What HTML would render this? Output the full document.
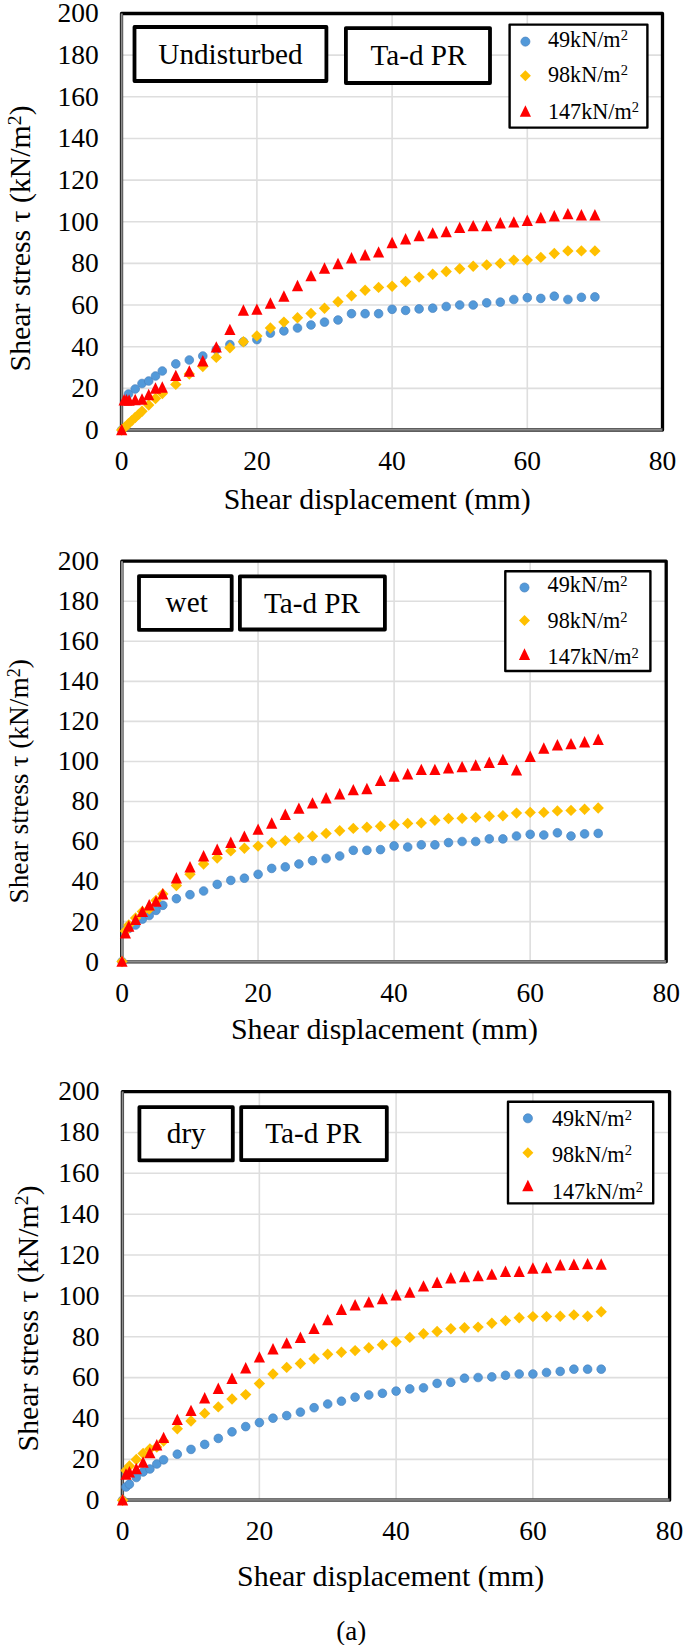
<!DOCTYPE html>
<html><head><meta charset="utf-8"><style>
html,body{margin:0;padding:0;background:#fff;}
svg{display:block;}
.t{font-family:"Liberation Serif", serif;fill:#000;}
</style></head><body>
<svg width="685" height="1645" viewBox="0 0 685 1645">
<rect width="685" height="1645" fill="#fff"/>
<line x1="121.7" y1="388.35" x2="662.5" y2="388.35" stroke="#DEDEDE" stroke-width="1.6"/>
<line x1="121.7" y1="346.70" x2="662.5" y2="346.70" stroke="#DEDEDE" stroke-width="1.6"/>
<line x1="121.7" y1="305.05" x2="662.5" y2="305.05" stroke="#DEDEDE" stroke-width="1.6"/>
<line x1="121.7" y1="263.40" x2="662.5" y2="263.40" stroke="#DEDEDE" stroke-width="1.6"/>
<line x1="121.7" y1="221.75" x2="662.5" y2="221.75" stroke="#DEDEDE" stroke-width="1.6"/>
<line x1="121.7" y1="180.10" x2="662.5" y2="180.10" stroke="#DEDEDE" stroke-width="1.6"/>
<line x1="121.7" y1="138.45" x2="662.5" y2="138.45" stroke="#DEDEDE" stroke-width="1.6"/>
<line x1="121.7" y1="96.80" x2="662.5" y2="96.80" stroke="#DEDEDE" stroke-width="1.6"/>
<line x1="121.7" y1="55.15" x2="662.5" y2="55.15" stroke="#DEDEDE" stroke-width="1.6"/>
<line x1="256.90" y1="13.5" x2="256.90" y2="430.0" stroke="#DEDEDE" stroke-width="1.6"/>
<line x1="392.10" y1="13.5" x2="392.10" y2="430.0" stroke="#DEDEDE" stroke-width="1.6"/>
<line x1="527.30" y1="13.5" x2="527.30" y2="430.0" stroke="#DEDEDE" stroke-width="1.6"/>
<rect x="121.5" y="13.50" width="541.0" height="416.50" fill="none" stroke="#000" stroke-width="3.3" stroke-linejoin="round"/>
<line x1="121.7" y1="13.5" x2="121.7" y2="431.5" stroke="#8e8e8e" stroke-width="2.0"/>
<line x1="120.2" y1="430.0" x2="662.5" y2="430.0" stroke="#6a6a6a" stroke-width="3.6"/>
<line x1="120.2" y1="429.7" x2="661.5" y2="429.7" stroke="#909090" stroke-width="1.0"/>
<rect x="134.5" y="27.0" width="191.9" height="54.0" fill="#fff" stroke="#000" stroke-width="3.8" stroke-linejoin="round"/>
<text x="158.3" y="63.5" font-size="29.2" class="t">Undisturbed</text>
<rect x="345.9" y="28.1" width="144.1" height="54.9" fill="#fff" stroke="#000" stroke-width="3.8" stroke-linejoin="round"/>
<text x="370.5" y="64.7" font-size="29.2" class="t">Ta-d PR</text>
<rect x="509.6" y="24.6" width="137.8" height="103.0" fill="#fff" stroke="#000" stroke-width="2.4" stroke-linejoin="round"/>
<circle cx="525.4" cy="41.6" r="4.55" fill="#5299D9" stroke="#4A82BF" stroke-width="0.7"/>
<path d="M525.4 70.3L530.9 75.8L525.4 81.3L519.9 75.8Z" fill="#FFC000"/>
<path d="M525.4 105.2L531.0 116.8L519.8 116.8Z" fill="#FF0000"/>
<text x="547.9" y="46.8" font-size="22.2" class="t">49kN/m<tspan font-size="14.5" dy="-6.4">2</tspan></text>
<text x="547.9" y="81.8" font-size="22.2" class="t">98kN/m<tspan font-size="14.5" dy="-6.4">2</tspan></text>
<text x="547.9" y="118.8" font-size="22.2" class="t">147kN/m<tspan font-size="14.5" dy="-6.4">2</tspan></text>
<circle cx="121.7" cy="430.0" r="4.35" fill="#5299D9" stroke="#4A82BF" stroke-width="0.7"/>
<circle cx="128.5" cy="394.0" r="4.35" fill="#5299D9" stroke="#4A82BF" stroke-width="0.7"/>
<circle cx="135.2" cy="389.0" r="4.35" fill="#5299D9" stroke="#4A82BF" stroke-width="0.7"/>
<circle cx="142.0" cy="383.5" r="4.35" fill="#5299D9" stroke="#4A82BF" stroke-width="0.7"/>
<circle cx="148.7" cy="381.0" r="4.35" fill="#5299D9" stroke="#4A82BF" stroke-width="0.7"/>
<circle cx="155.5" cy="376.0" r="4.35" fill="#5299D9" stroke="#4A82BF" stroke-width="0.7"/>
<circle cx="162.3" cy="371.0" r="4.35" fill="#5299D9" stroke="#4A82BF" stroke-width="0.7"/>
<circle cx="175.8" cy="363.9" r="4.35" fill="#5299D9" stroke="#4A82BF" stroke-width="0.7"/>
<circle cx="189.3" cy="360.0" r="4.35" fill="#5299D9" stroke="#4A82BF" stroke-width="0.7"/>
<circle cx="202.8" cy="356.0" r="4.35" fill="#5299D9" stroke="#4A82BF" stroke-width="0.7"/>
<circle cx="216.3" cy="349.5" r="4.35" fill="#5299D9" stroke="#4A82BF" stroke-width="0.7"/>
<circle cx="229.9" cy="344.6" r="4.35" fill="#5299D9" stroke="#4A82BF" stroke-width="0.7"/>
<circle cx="243.4" cy="341.8" r="4.35" fill="#5299D9" stroke="#4A82BF" stroke-width="0.7"/>
<circle cx="256.9" cy="339.6" r="4.35" fill="#5299D9" stroke="#4A82BF" stroke-width="0.7"/>
<circle cx="270.4" cy="333.1" r="4.35" fill="#5299D9" stroke="#4A82BF" stroke-width="0.7"/>
<circle cx="283.9" cy="330.9" r="4.35" fill="#5299D9" stroke="#4A82BF" stroke-width="0.7"/>
<circle cx="297.5" cy="328.0" r="4.35" fill="#5299D9" stroke="#4A82BF" stroke-width="0.7"/>
<circle cx="311.0" cy="325.0" r="4.35" fill="#5299D9" stroke="#4A82BF" stroke-width="0.7"/>
<circle cx="324.5" cy="322.1" r="4.35" fill="#5299D9" stroke="#4A82BF" stroke-width="0.7"/>
<circle cx="338.0" cy="320.0" r="4.35" fill="#5299D9" stroke="#4A82BF" stroke-width="0.7"/>
<circle cx="351.5" cy="313.7" r="4.35" fill="#5299D9" stroke="#4A82BF" stroke-width="0.7"/>
<circle cx="365.1" cy="313.7" r="4.35" fill="#5299D9" stroke="#4A82BF" stroke-width="0.7"/>
<circle cx="378.6" cy="313.7" r="4.35" fill="#5299D9" stroke="#4A82BF" stroke-width="0.7"/>
<circle cx="392.1" cy="309.3" r="4.35" fill="#5299D9" stroke="#4A82BF" stroke-width="0.7"/>
<circle cx="405.6" cy="310.4" r="4.35" fill="#5299D9" stroke="#4A82BF" stroke-width="0.7"/>
<circle cx="419.1" cy="308.9" r="4.35" fill="#5299D9" stroke="#4A82BF" stroke-width="0.7"/>
<circle cx="432.7" cy="308.2" r="4.35" fill="#5299D9" stroke="#4A82BF" stroke-width="0.7"/>
<circle cx="446.2" cy="306.5" r="4.35" fill="#5299D9" stroke="#4A82BF" stroke-width="0.7"/>
<circle cx="459.7" cy="305.0" r="4.35" fill="#5299D9" stroke="#4A82BF" stroke-width="0.7"/>
<circle cx="473.2" cy="305.0" r="4.35" fill="#5299D9" stroke="#4A82BF" stroke-width="0.7"/>
<circle cx="486.7" cy="302.8" r="4.35" fill="#5299D9" stroke="#4A82BF" stroke-width="0.7"/>
<circle cx="500.3" cy="302.1" r="4.35" fill="#5299D9" stroke="#4A82BF" stroke-width="0.7"/>
<circle cx="513.8" cy="299.5" r="4.35" fill="#5299D9" stroke="#4A82BF" stroke-width="0.7"/>
<circle cx="527.3" cy="297.7" r="4.35" fill="#5299D9" stroke="#4A82BF" stroke-width="0.7"/>
<circle cx="540.8" cy="298.4" r="4.35" fill="#5299D9" stroke="#4A82BF" stroke-width="0.7"/>
<circle cx="554.3" cy="296.2" r="4.35" fill="#5299D9" stroke="#4A82BF" stroke-width="0.7"/>
<circle cx="567.9" cy="299.5" r="4.35" fill="#5299D9" stroke="#4A82BF" stroke-width="0.7"/>
<circle cx="581.4" cy="297.3" r="4.35" fill="#5299D9" stroke="#4A82BF" stroke-width="0.7"/>
<circle cx="594.9" cy="296.9" r="4.35" fill="#5299D9" stroke="#4A82BF" stroke-width="0.7"/>
<path d="M121.7 424.3L127.4 430.0L121.7 435.7L116.0 430.0Z" fill="#FFC000"/>
<path d="M125.1 421.3L130.8 427.0L125.1 432.7L119.4 427.0Z" fill="#FFC000"/>
<path d="M128.5 418.1L134.2 423.8L128.5 429.5L122.8 423.8Z" fill="#FFC000"/>
<path d="M131.8 414.9L137.5 420.6L131.8 426.3L126.1 420.6Z" fill="#FFC000"/>
<path d="M135.2 411.8L140.9 417.5L135.2 423.2L129.5 417.5Z" fill="#FFC000"/>
<path d="M138.6 408.7L144.3 414.4L138.6 420.1L132.9 414.4Z" fill="#FFC000"/>
<path d="M142.0 405.6L147.7 411.3L142.0 417.0L136.3 411.3Z" fill="#FFC000"/>
<path d="M148.7 399.3L154.4 405.0L148.7 410.7L143.0 405.0Z" fill="#FFC000"/>
<path d="M155.5 392.8L161.2 398.5L155.5 404.2L149.8 398.5Z" fill="#FFC000"/>
<path d="M162.3 387.8L168.0 393.5L162.3 399.2L156.6 393.5Z" fill="#FFC000"/>
<path d="M175.8 378.7L181.5 384.4L175.8 390.1L170.1 384.4Z" fill="#FFC000"/>
<path d="M189.3 368.3L195.0 374.0L189.3 379.7L183.6 374.0Z" fill="#FFC000"/>
<path d="M202.8 360.8L208.5 366.5L202.8 372.2L197.1 366.5Z" fill="#FFC000"/>
<path d="M216.3 351.7L222.0 357.4L216.3 363.1L210.6 357.4Z" fill="#FFC000"/>
<path d="M229.9 342.1L235.6 347.8L229.9 353.5L224.2 347.8Z" fill="#FFC000"/>
<path d="M243.4 336.1L249.1 341.8L243.4 347.5L237.7 341.8Z" fill="#FFC000"/>
<path d="M256.9 330.2L262.6 335.9L256.9 341.6L251.2 335.9Z" fill="#FFC000"/>
<path d="M270.4 322.3L276.1 328.0L270.4 333.7L264.7 328.0Z" fill="#FFC000"/>
<path d="M283.9 316.4L289.6 322.1L283.9 327.8L278.2 322.1Z" fill="#FFC000"/>
<path d="M297.5 312.0L303.2 317.7L297.5 323.4L291.8 317.7Z" fill="#FFC000"/>
<path d="M311.0 307.7L316.7 313.4L311.0 319.1L305.3 313.4Z" fill="#FFC000"/>
<path d="M324.5 302.6L330.2 308.3L324.5 314.0L318.8 308.3Z" fill="#FFC000"/>
<path d="M338.0 296.0L343.7 301.7L338.0 307.4L332.3 301.7Z" fill="#FFC000"/>
<path d="M351.5 290.1L357.2 295.8L351.5 301.5L345.8 295.8Z" fill="#FFC000"/>
<path d="M365.1 284.6L370.8 290.3L365.1 296.0L359.4 290.3Z" fill="#FFC000"/>
<path d="M378.6 281.7L384.3 287.4L378.6 293.1L372.9 287.4Z" fill="#FFC000"/>
<path d="M392.1 280.6L397.8 286.3L392.1 292.0L386.4 286.3Z" fill="#FFC000"/>
<path d="M405.6 275.8L411.3 281.5L405.6 287.2L399.9 281.5Z" fill="#FFC000"/>
<path d="M419.1 271.4L424.8 277.1L419.1 282.8L413.4 277.1Z" fill="#FFC000"/>
<path d="M432.7 268.6L438.4 274.3L432.7 280.0L427.0 274.3Z" fill="#FFC000"/>
<path d="M446.2 265.8L451.9 271.5L446.2 277.2L440.5 271.5Z" fill="#FFC000"/>
<path d="M459.7 263.1L465.4 268.8L459.7 274.5L454.0 268.8Z" fill="#FFC000"/>
<path d="M473.2 260.5L478.9 266.2L473.2 271.9L467.5 266.2Z" fill="#FFC000"/>
<path d="M486.7 259.2L492.4 264.9L486.7 270.6L481.0 264.9Z" fill="#FFC000"/>
<path d="M500.3 257.7L506.0 263.4L500.3 269.1L494.6 263.4Z" fill="#FFC000"/>
<path d="M513.8 254.4L519.5 260.1L513.8 265.8L508.1 260.1Z" fill="#FFC000"/>
<path d="M527.3 254.4L533.0 260.1L527.3 265.8L521.6 260.1Z" fill="#FFC000"/>
<path d="M540.8 251.7L546.5 257.4L540.8 263.1L535.1 257.4Z" fill="#FFC000"/>
<path d="M554.3 247.8L560.0 253.5L554.3 259.2L548.6 253.5Z" fill="#FFC000"/>
<path d="M567.9 245.2L573.6 250.9L567.9 256.6L562.2 250.9Z" fill="#FFC000"/>
<path d="M581.4 245.2L587.1 250.9L581.4 256.6L575.7 250.9Z" fill="#FFC000"/>
<path d="M594.9 245.2L600.6 250.9L594.9 256.6L589.2 250.9Z" fill="#FFC000"/>
<path d="M121.7 423.8L127.3 435.2L116.1 435.2Z" fill="#FF0000"/>
<path d="M124.1 394.1L129.7 405.5L118.5 405.5Z" fill="#FF0000"/>
<path d="M126.4 394.0L132.0 405.4L120.8 405.4Z" fill="#FF0000"/>
<path d="M129.1 394.3L134.7 405.7L123.5 405.7Z" fill="#FF0000"/>
<path d="M135.2 393.8L140.8 405.2L129.6 405.2Z" fill="#FF0000"/>
<path d="M142.0 393.3L147.6 404.7L136.4 404.7Z" fill="#FF0000"/>
<path d="M148.7 388.8L154.3 400.2L143.1 400.2Z" fill="#FF0000"/>
<path d="M155.5 382.3L161.1 393.7L149.9 393.7Z" fill="#FF0000"/>
<path d="M162.3 381.3L167.9 392.7L156.7 392.7Z" fill="#FF0000"/>
<path d="M175.8 369.7L181.4 381.1L170.2 381.1Z" fill="#FF0000"/>
<path d="M189.3 365.3L194.9 376.7L183.7 376.7Z" fill="#FF0000"/>
<path d="M202.8 355.1L208.4 366.5L197.2 366.5Z" fill="#FF0000"/>
<path d="M216.3 341.2L221.9 352.6L210.7 352.6Z" fill="#FF0000"/>
<path d="M229.9 323.7L235.5 335.1L224.3 335.1Z" fill="#FF0000"/>
<path d="M243.4 304.3L249.0 315.7L237.8 315.7Z" fill="#FF0000"/>
<path d="M256.9 303.4L262.5 314.8L251.3 314.8Z" fill="#FF0000"/>
<path d="M270.4 297.3L276.0 308.7L264.8 308.7Z" fill="#FF0000"/>
<path d="M283.9 290.3L289.5 301.7L278.3 301.7Z" fill="#FF0000"/>
<path d="M297.5 279.8L303.1 291.2L291.9 291.2Z" fill="#FF0000"/>
<path d="M311.0 269.9L316.6 281.3L305.4 281.3Z" fill="#FF0000"/>
<path d="M324.5 262.3L330.1 273.7L318.9 273.7Z" fill="#FF0000"/>
<path d="M338.0 257.8L343.6 269.2L332.4 269.2Z" fill="#FF0000"/>
<path d="M351.5 252.1L357.1 263.5L345.9 263.5Z" fill="#FF0000"/>
<path d="M365.1 249.1L370.7 260.5L359.5 260.5Z" fill="#FF0000"/>
<path d="M378.6 246.2L384.2 257.6L373.0 257.6Z" fill="#FF0000"/>
<path d="M392.1 236.8L397.7 248.2L386.5 248.2Z" fill="#FF0000"/>
<path d="M405.6 233.1L411.2 244.5L400.0 244.5Z" fill="#FF0000"/>
<path d="M419.1 229.8L424.7 241.2L413.5 241.2Z" fill="#FF0000"/>
<path d="M432.7 227.2L438.3 238.6L427.1 238.6Z" fill="#FF0000"/>
<path d="M446.2 225.8L451.8 237.2L440.6 237.2Z" fill="#FF0000"/>
<path d="M459.7 221.7L465.3 233.1L454.1 233.1Z" fill="#FF0000"/>
<path d="M473.2 219.9L478.8 231.3L467.6 231.3Z" fill="#FF0000"/>
<path d="M486.7 219.9L492.3 231.3L481.1 231.3Z" fill="#FF0000"/>
<path d="M500.3 217.1L505.9 228.5L494.7 228.5Z" fill="#FF0000"/>
<path d="M513.8 216.2L519.4 227.6L508.2 227.6Z" fill="#FF0000"/>
<path d="M527.3 214.5L532.9 225.9L521.7 225.9Z" fill="#FF0000"/>
<path d="M540.8 211.8L546.4 223.2L535.2 223.2Z" fill="#FF0000"/>
<path d="M554.3 210.1L559.9 221.5L548.7 221.5Z" fill="#FF0000"/>
<path d="M567.9 207.9L573.5 219.3L562.3 219.3Z" fill="#FF0000"/>
<path d="M581.4 209.0L587.0 220.4L575.8 220.4Z" fill="#FF0000"/>
<path d="M594.9 209.0L600.5 220.4L589.3 220.4Z" fill="#FF0000"/>
<text x="98.7" y="438.8" font-size="27.5" text-anchor="end" class="t">0</text>
<text x="98.7" y="397.2" font-size="27.5" text-anchor="end" class="t">20</text>
<text x="98.7" y="355.5" font-size="27.5" text-anchor="end" class="t">40</text>
<text x="98.7" y="313.9" font-size="27.5" text-anchor="end" class="t">60</text>
<text x="98.7" y="272.2" font-size="27.5" text-anchor="end" class="t">80</text>
<text x="98.7" y="230.6" font-size="27.5" text-anchor="end" class="t">100</text>
<text x="98.7" y="188.9" font-size="27.5" text-anchor="end" class="t">120</text>
<text x="98.7" y="147.2" font-size="27.5" text-anchor="end" class="t">140</text>
<text x="98.7" y="105.6" font-size="27.5" text-anchor="end" class="t">160</text>
<text x="98.7" y="63.9" font-size="27.5" text-anchor="end" class="t">180</text>
<text x="98.7" y="22.3" font-size="27.5" text-anchor="end" class="t">200</text>
<text x="121.7" y="470.0" font-size="27.5" text-anchor="middle" class="t">0</text>
<text x="256.9" y="470.0" font-size="27.5" text-anchor="middle" class="t">20</text>
<text x="392.1" y="470.0" font-size="27.5" text-anchor="middle" class="t">40</text>
<text x="527.3" y="470.0" font-size="27.5" text-anchor="middle" class="t">60</text>
<text x="662.5" y="470.0" font-size="27.5" text-anchor="middle" class="t">80</text>
<text x="223.7" y="508.5" font-size="29.9" class="t">Shear displacement (mm)</text>
<text transform="translate(29.7,370.4) rotate(-90)" x="-1" y="0" font-size="29.8" class="t">Shear stress τ (kN/m<tspan font-size="19.7" dy="-9.1">2</tspan><tspan dy="9.1">)</tspan></text>
<line x1="122.0" y1="921.65" x2="666.2" y2="921.65" stroke="#DEDEDE" stroke-width="1.6"/>
<line x1="122.0" y1="881.60" x2="666.2" y2="881.60" stroke="#DEDEDE" stroke-width="1.6"/>
<line x1="122.0" y1="841.55" x2="666.2" y2="841.55" stroke="#DEDEDE" stroke-width="1.6"/>
<line x1="122.0" y1="801.50" x2="666.2" y2="801.50" stroke="#DEDEDE" stroke-width="1.6"/>
<line x1="122.0" y1="761.45" x2="666.2" y2="761.45" stroke="#DEDEDE" stroke-width="1.6"/>
<line x1="122.0" y1="721.40" x2="666.2" y2="721.40" stroke="#DEDEDE" stroke-width="1.6"/>
<line x1="122.0" y1="681.35" x2="666.2" y2="681.35" stroke="#DEDEDE" stroke-width="1.6"/>
<line x1="122.0" y1="641.30" x2="666.2" y2="641.30" stroke="#DEDEDE" stroke-width="1.6"/>
<line x1="122.0" y1="601.25" x2="666.2" y2="601.25" stroke="#DEDEDE" stroke-width="1.6"/>
<line x1="258.05" y1="561.2" x2="258.05" y2="961.7" stroke="#DEDEDE" stroke-width="1.6"/>
<line x1="394.10" y1="561.2" x2="394.10" y2="961.7" stroke="#DEDEDE" stroke-width="1.6"/>
<line x1="530.15" y1="561.2" x2="530.15" y2="961.7" stroke="#DEDEDE" stroke-width="1.6"/>
<rect x="121.8" y="561.20" width="544.4" height="400.50" fill="none" stroke="#000" stroke-width="3.3" stroke-linejoin="round"/>
<line x1="122.0" y1="561.2" x2="122.0" y2="963.2" stroke="#8e8e8e" stroke-width="2.0"/>
<line x1="120.5" y1="961.7" x2="666.2" y2="961.7" stroke="#6a6a6a" stroke-width="3.6"/>
<line x1="120.5" y1="961.4" x2="665.2" y2="961.4" stroke="#909090" stroke-width="1.0"/>
<rect x="139.0" y="576.1" width="92.7" height="53.8" fill="#fff" stroke="#000" stroke-width="3.8" stroke-linejoin="round"/>
<text x="165.6" y="612.3" font-size="29.2" class="t">wet</text>
<rect x="239.9" y="576.4" width="145.0" height="53.1" fill="#fff" stroke="#000" stroke-width="3.8" stroke-linejoin="round"/>
<text x="264.0" y="612.7" font-size="29.2" class="t">Ta-d PR</text>
<rect x="505.3" y="571.2" width="145.1" height="99.8" fill="#fff" stroke="#000" stroke-width="2.4" stroke-linejoin="round"/>
<circle cx="524.5" cy="587.5" r="4.55" fill="#5299D9" stroke="#4A82BF" stroke-width="0.7"/>
<path d="M524.5 615.0L530.0 620.5L524.5 626.0L519.0 620.5Z" fill="#FFC000"/>
<path d="M524.5 648.3L530.1 659.9L518.9 659.9Z" fill="#FF0000"/>
<text x="547.6" y="592.4" font-size="22.2" class="t">49kN/m<tspan font-size="14.5" dy="-6.4">2</tspan></text>
<text x="547.6" y="627.9" font-size="22.2" class="t">98kN/m<tspan font-size="14.5" dy="-6.4">2</tspan></text>
<text x="547.6" y="664.4" font-size="22.2" class="t">147kN/m<tspan font-size="14.5" dy="-6.4">2</tspan></text>
<circle cx="122.0" cy="961.6" r="4.35" fill="#5299D9" stroke="#4A82BF" stroke-width="0.7"/>
<circle cx="128.8" cy="928.5" r="4.35" fill="#5299D9" stroke="#4A82BF" stroke-width="0.7"/>
<circle cx="135.6" cy="925.0" r="4.35" fill="#5299D9" stroke="#4A82BF" stroke-width="0.7"/>
<circle cx="142.4" cy="919.1" r="4.35" fill="#5299D9" stroke="#4A82BF" stroke-width="0.7"/>
<circle cx="149.2" cy="915.5" r="4.35" fill="#5299D9" stroke="#4A82BF" stroke-width="0.7"/>
<circle cx="156.0" cy="910.4" r="4.35" fill="#5299D9" stroke="#4A82BF" stroke-width="0.7"/>
<circle cx="162.8" cy="905.3" r="4.35" fill="#5299D9" stroke="#4A82BF" stroke-width="0.7"/>
<circle cx="176.4" cy="898.7" r="4.35" fill="#5299D9" stroke="#4A82BF" stroke-width="0.7"/>
<circle cx="190.0" cy="894.7" r="4.35" fill="#5299D9" stroke="#4A82BF" stroke-width="0.7"/>
<circle cx="203.6" cy="891.0" r="4.35" fill="#5299D9" stroke="#4A82BF" stroke-width="0.7"/>
<circle cx="217.2" cy="884.4" r="4.35" fill="#5299D9" stroke="#4A82BF" stroke-width="0.7"/>
<circle cx="230.8" cy="880.4" r="4.35" fill="#5299D9" stroke="#4A82BF" stroke-width="0.7"/>
<circle cx="244.4" cy="878.2" r="4.35" fill="#5299D9" stroke="#4A82BF" stroke-width="0.7"/>
<circle cx="258.1" cy="874.3" r="4.35" fill="#5299D9" stroke="#4A82BF" stroke-width="0.7"/>
<circle cx="271.7" cy="868.4" r="4.35" fill="#5299D9" stroke="#4A82BF" stroke-width="0.7"/>
<circle cx="285.3" cy="866.9" r="4.35" fill="#5299D9" stroke="#4A82BF" stroke-width="0.7"/>
<circle cx="298.9" cy="864.0" r="4.35" fill="#5299D9" stroke="#4A82BF" stroke-width="0.7"/>
<circle cx="312.5" cy="860.7" r="4.35" fill="#5299D9" stroke="#4A82BF" stroke-width="0.7"/>
<circle cx="326.1" cy="858.5" r="4.35" fill="#5299D9" stroke="#4A82BF" stroke-width="0.7"/>
<circle cx="339.7" cy="856.0" r="4.35" fill="#5299D9" stroke="#4A82BF" stroke-width="0.7"/>
<circle cx="353.3" cy="850.3" r="4.35" fill="#5299D9" stroke="#4A82BF" stroke-width="0.7"/>
<circle cx="366.9" cy="850.3" r="4.35" fill="#5299D9" stroke="#4A82BF" stroke-width="0.7"/>
<circle cx="380.5" cy="849.6" r="4.35" fill="#5299D9" stroke="#4A82BF" stroke-width="0.7"/>
<circle cx="394.1" cy="845.9" r="4.35" fill="#5299D9" stroke="#4A82BF" stroke-width="0.7"/>
<circle cx="407.7" cy="847.0" r="4.35" fill="#5299D9" stroke="#4A82BF" stroke-width="0.7"/>
<circle cx="421.3" cy="844.8" r="4.35" fill="#5299D9" stroke="#4A82BF" stroke-width="0.7"/>
<circle cx="434.9" cy="844.8" r="4.35" fill="#5299D9" stroke="#4A82BF" stroke-width="0.7"/>
<circle cx="448.5" cy="842.6" r="4.35" fill="#5299D9" stroke="#4A82BF" stroke-width="0.7"/>
<circle cx="462.1" cy="841.5" r="4.35" fill="#5299D9" stroke="#4A82BF" stroke-width="0.7"/>
<circle cx="475.7" cy="841.5" r="4.35" fill="#5299D9" stroke="#4A82BF" stroke-width="0.7"/>
<circle cx="489.3" cy="838.9" r="4.35" fill="#5299D9" stroke="#4A82BF" stroke-width="0.7"/>
<circle cx="502.9" cy="838.9" r="4.35" fill="#5299D9" stroke="#4A82BF" stroke-width="0.7"/>
<circle cx="516.5" cy="836.0" r="4.35" fill="#5299D9" stroke="#4A82BF" stroke-width="0.7"/>
<circle cx="530.2" cy="834.3" r="4.35" fill="#5299D9" stroke="#4A82BF" stroke-width="0.7"/>
<circle cx="543.8" cy="835.0" r="4.35" fill="#5299D9" stroke="#4A82BF" stroke-width="0.7"/>
<circle cx="557.4" cy="832.8" r="4.35" fill="#5299D9" stroke="#4A82BF" stroke-width="0.7"/>
<circle cx="571.0" cy="836.0" r="4.35" fill="#5299D9" stroke="#4A82BF" stroke-width="0.7"/>
<circle cx="584.6" cy="833.9" r="4.35" fill="#5299D9" stroke="#4A82BF" stroke-width="0.7"/>
<circle cx="598.2" cy="833.4" r="4.35" fill="#5299D9" stroke="#4A82BF" stroke-width="0.7"/>
<path d="M122.0 955.9L127.7 961.6L122.0 967.3L116.3 961.6Z" fill="#FFC000"/>
<path d="M125.4 925.3L131.1 931.0L125.4 936.7L119.7 931.0Z" fill="#FFC000"/>
<path d="M128.8 919.3L134.5 925.0L128.8 930.7L123.1 925.0Z" fill="#FFC000"/>
<path d="M135.6 912.3L141.3 918.0L135.6 923.7L129.9 918.0Z" fill="#FFC000"/>
<path d="M142.4 905.8L148.1 911.5L142.4 917.2L136.7 911.5Z" fill="#FFC000"/>
<path d="M149.2 903.3L154.9 909.0L149.2 914.7L143.5 909.0Z" fill="#FFC000"/>
<path d="M156.0 894.8L161.7 900.5L156.0 906.2L150.3 900.5Z" fill="#FFC000"/>
<path d="M162.8 888.3L168.5 894.0L162.8 899.7L157.1 894.0Z" fill="#FFC000"/>
<path d="M176.4 879.8L182.1 885.5L176.4 891.2L170.7 885.5Z" fill="#FFC000"/>
<path d="M190.0 868.5L195.7 874.2L190.0 879.9L184.3 874.2Z" fill="#FFC000"/>
<path d="M203.6 858.3L209.3 864.0L203.6 869.7L197.9 864.0Z" fill="#FFC000"/>
<path d="M217.2 852.4L222.9 858.1L217.2 863.8L211.5 858.1Z" fill="#FFC000"/>
<path d="M230.8 845.2L236.5 850.9L230.8 856.6L225.1 850.9Z" fill="#FFC000"/>
<path d="M244.4 842.5L250.1 848.2L244.4 853.9L238.7 848.2Z" fill="#FFC000"/>
<path d="M258.1 840.4L263.8 846.1L258.1 851.8L252.4 846.1Z" fill="#FFC000"/>
<path d="M271.7 837.1L277.4 842.8L271.7 848.5L266.0 842.8Z" fill="#FFC000"/>
<path d="M285.3 834.9L291.0 840.6L285.3 846.3L279.6 840.6Z" fill="#FFC000"/>
<path d="M298.9 832.0L304.6 837.7L298.9 843.4L293.2 837.7Z" fill="#FFC000"/>
<path d="M312.5 830.5L318.2 836.2L312.5 841.9L306.8 836.2Z" fill="#FFC000"/>
<path d="M326.1 827.7L331.8 833.4L326.1 839.1L320.4 833.4Z" fill="#FFC000"/>
<path d="M339.7 825.1L345.4 830.8L339.7 836.5L334.0 830.8Z" fill="#FFC000"/>
<path d="M353.3 822.7L359.0 828.4L353.3 834.1L347.6 828.4Z" fill="#FFC000"/>
<path d="M366.9 821.6L372.6 827.3L366.9 833.0L361.2 827.3Z" fill="#FFC000"/>
<path d="M380.5 820.5L386.2 826.2L380.5 831.9L374.8 826.2Z" fill="#FFC000"/>
<path d="M394.1 819.0L399.8 824.7L394.1 830.4L388.4 824.7Z" fill="#FFC000"/>
<path d="M407.7 817.7L413.4 823.4L407.7 829.1L402.0 823.4Z" fill="#FFC000"/>
<path d="M421.3 817.2L427.0 822.9L421.3 828.6L415.6 822.9Z" fill="#FFC000"/>
<path d="M434.9 814.6L440.6 820.3L434.9 826.0L429.2 820.3Z" fill="#FFC000"/>
<path d="M448.5 812.8L454.2 818.5L448.5 824.2L442.8 818.5Z" fill="#FFC000"/>
<path d="M462.1 812.6L467.8 818.3L462.1 824.0L456.4 818.3Z" fill="#FFC000"/>
<path d="M475.7 811.7L481.4 817.4L475.7 823.1L470.0 817.4Z" fill="#FFC000"/>
<path d="M489.3 810.6L495.0 816.3L489.3 822.0L483.6 816.3Z" fill="#FFC000"/>
<path d="M502.9 810.0L508.6 815.7L502.9 821.4L497.2 815.7Z" fill="#FFC000"/>
<path d="M516.5 807.4L522.2 813.1L516.5 818.8L510.8 813.1Z" fill="#FFC000"/>
<path d="M530.2 806.7L535.9 812.4L530.2 818.1L524.5 812.4Z" fill="#FFC000"/>
<path d="M543.8 806.7L549.5 812.4L543.8 818.1L538.1 812.4Z" fill="#FFC000"/>
<path d="M557.4 805.2L563.1 810.9L557.4 816.6L551.7 810.9Z" fill="#FFC000"/>
<path d="M571.0 804.7L576.7 810.4L571.0 816.1L565.3 810.4Z" fill="#FFC000"/>
<path d="M584.6 803.6L590.3 809.3L584.6 815.0L578.9 809.3Z" fill="#FFC000"/>
<path d="M598.2 802.3L603.9 808.0L598.2 813.7L592.5 808.0Z" fill="#FFC000"/>
<path d="M122.0 955.4L127.6 966.8L116.4 966.8Z" fill="#FF0000"/>
<path d="M125.4 927.1L131.0 938.5L119.8 938.5Z" fill="#FF0000"/>
<path d="M128.8 920.3L134.4 931.7L123.2 931.7Z" fill="#FF0000"/>
<path d="M135.6 913.7L141.2 925.1L130.0 925.1Z" fill="#FF0000"/>
<path d="M142.4 905.6L148.0 917.0L136.8 917.0Z" fill="#FF0000"/>
<path d="M149.2 899.1L154.8 910.5L143.6 910.5Z" fill="#FF0000"/>
<path d="M156.0 895.4L161.6 906.8L150.4 906.8Z" fill="#FF0000"/>
<path d="M162.8 888.1L168.4 899.5L157.2 899.5Z" fill="#FF0000"/>
<path d="M176.4 872.0L182.0 883.4L170.8 883.4Z" fill="#FF0000"/>
<path d="M190.0 861.1L195.6 872.5L184.4 872.5Z" fill="#FF0000"/>
<path d="M203.6 850.1L209.2 861.5L198.0 861.5Z" fill="#FF0000"/>
<path d="M217.2 843.6L222.8 855.0L211.6 855.0Z" fill="#FF0000"/>
<path d="M230.8 836.6L236.4 848.0L225.2 848.0Z" fill="#FF0000"/>
<path d="M244.4 830.4L250.0 841.8L238.8 841.8Z" fill="#FF0000"/>
<path d="M258.1 823.4L263.7 834.8L252.5 834.8Z" fill="#FF0000"/>
<path d="M271.7 817.3L277.3 828.7L266.1 828.7Z" fill="#FF0000"/>
<path d="M285.3 808.5L290.9 819.9L279.7 819.9Z" fill="#FF0000"/>
<path d="M298.9 802.4L304.5 813.8L293.3 813.8Z" fill="#FF0000"/>
<path d="M312.5 797.2L318.1 808.6L306.9 808.6Z" fill="#FF0000"/>
<path d="M326.1 792.1L331.7 803.5L320.5 803.5Z" fill="#FF0000"/>
<path d="M339.7 788.0L345.3 799.4L334.1 799.4Z" fill="#FF0000"/>
<path d="M353.3 783.9L358.9 795.3L347.7 795.3Z" fill="#FF0000"/>
<path d="M366.9 782.8L372.5 794.2L361.3 794.2Z" fill="#FF0000"/>
<path d="M380.5 774.7L386.1 786.1L374.9 786.1Z" fill="#FF0000"/>
<path d="M394.1 770.3L399.7 781.7L388.5 781.7Z" fill="#FF0000"/>
<path d="M407.7 768.1L413.3 779.5L402.1 779.5Z" fill="#FF0000"/>
<path d="M421.3 763.7L426.9 775.1L415.7 775.1Z" fill="#FF0000"/>
<path d="M434.9 763.7L440.5 775.1L429.3 775.1Z" fill="#FF0000"/>
<path d="M448.5 762.0L454.1 773.4L442.9 773.4Z" fill="#FF0000"/>
<path d="M462.1 760.9L467.7 772.3L456.5 772.3Z" fill="#FF0000"/>
<path d="M475.7 759.3L481.3 770.7L470.1 770.7Z" fill="#FF0000"/>
<path d="M489.3 756.5L494.9 767.9L483.7 767.9Z" fill="#FF0000"/>
<path d="M502.9 753.7L508.5 765.1L497.3 765.1Z" fill="#FF0000"/>
<path d="M516.5 764.2L522.1 775.6L510.9 775.6Z" fill="#FF0000"/>
<path d="M530.2 750.6L535.8 762.0L524.6 762.0Z" fill="#FF0000"/>
<path d="M543.8 742.3L549.4 753.7L538.2 753.7Z" fill="#FF0000"/>
<path d="M557.4 739.0L563.0 750.4L551.8 750.4Z" fill="#FF0000"/>
<path d="M571.0 737.9L576.6 749.3L565.4 749.3Z" fill="#FF0000"/>
<path d="M584.6 736.1L590.2 747.5L579.0 747.5Z" fill="#FF0000"/>
<path d="M598.2 733.5L603.8 744.9L592.6 744.9Z" fill="#FF0000"/>
<text x="99.0" y="970.5" font-size="27.5" text-anchor="end" class="t">0</text>
<text x="99.0" y="930.5" font-size="27.5" text-anchor="end" class="t">20</text>
<text x="99.0" y="890.4" font-size="27.5" text-anchor="end" class="t">40</text>
<text x="99.0" y="850.4" font-size="27.5" text-anchor="end" class="t">60</text>
<text x="99.0" y="810.3" font-size="27.5" text-anchor="end" class="t">80</text>
<text x="99.0" y="770.2" font-size="27.5" text-anchor="end" class="t">100</text>
<text x="99.0" y="730.2" font-size="27.5" text-anchor="end" class="t">120</text>
<text x="99.0" y="690.2" font-size="27.5" text-anchor="end" class="t">140</text>
<text x="99.0" y="650.1" font-size="27.5" text-anchor="end" class="t">160</text>
<text x="99.0" y="610.0" font-size="27.5" text-anchor="end" class="t">180</text>
<text x="99.0" y="570.0" font-size="27.5" text-anchor="end" class="t">200</text>
<text x="122.0" y="1001.7" font-size="27.5" text-anchor="middle" class="t">0</text>
<text x="258.1" y="1001.7" font-size="27.5" text-anchor="middle" class="t">20</text>
<text x="394.1" y="1001.7" font-size="27.5" text-anchor="middle" class="t">40</text>
<text x="530.2" y="1001.7" font-size="27.5" text-anchor="middle" class="t">60</text>
<text x="666.2" y="1001.7" font-size="27.5" text-anchor="middle" class="t">80</text>
<text x="230.9" y="1039.2" font-size="29.9" class="t">Shear displacement (mm)</text>
<text transform="translate(28.1,902.6) rotate(-90)" x="-1" y="0" font-size="27.4" class="t">Shear stress τ (kN/m<tspan font-size="18.1" dy="-8.4">2</tspan><tspan dy="8.4">)</tspan></text>
<line x1="122.6" y1="1459.34" x2="669.6" y2="1459.34" stroke="#DEDEDE" stroke-width="1.6"/>
<line x1="122.6" y1="1418.48" x2="669.6" y2="1418.48" stroke="#DEDEDE" stroke-width="1.6"/>
<line x1="122.6" y1="1377.62" x2="669.6" y2="1377.62" stroke="#DEDEDE" stroke-width="1.6"/>
<line x1="122.6" y1="1336.76" x2="669.6" y2="1336.76" stroke="#DEDEDE" stroke-width="1.6"/>
<line x1="122.6" y1="1295.90" x2="669.6" y2="1295.90" stroke="#DEDEDE" stroke-width="1.6"/>
<line x1="122.6" y1="1255.04" x2="669.6" y2="1255.04" stroke="#DEDEDE" stroke-width="1.6"/>
<line x1="122.6" y1="1214.18" x2="669.6" y2="1214.18" stroke="#DEDEDE" stroke-width="1.6"/>
<line x1="122.6" y1="1173.32" x2="669.6" y2="1173.32" stroke="#DEDEDE" stroke-width="1.6"/>
<line x1="122.6" y1="1132.46" x2="669.6" y2="1132.46" stroke="#DEDEDE" stroke-width="1.6"/>
<line x1="259.35" y1="1091.6" x2="259.35" y2="1500.2" stroke="#DEDEDE" stroke-width="1.6"/>
<line x1="396.10" y1="1091.6" x2="396.10" y2="1500.2" stroke="#DEDEDE" stroke-width="1.6"/>
<line x1="532.85" y1="1091.6" x2="532.85" y2="1500.2" stroke="#DEDEDE" stroke-width="1.6"/>
<rect x="122.4" y="1091.60" width="547.2" height="408.60" fill="none" stroke="#000" stroke-width="3.3" stroke-linejoin="round"/>
<line x1="122.6" y1="1091.6" x2="122.6" y2="1501.7" stroke="#8e8e8e" stroke-width="2.0"/>
<line x1="121.1" y1="1500.2" x2="669.6" y2="1500.2" stroke="#6a6a6a" stroke-width="3.6"/>
<line x1="121.1" y1="1499.9" x2="668.6" y2="1499.9" stroke="#909090" stroke-width="1.0"/>
<rect x="139.4" y="1107.2" width="93.4" height="53.2" fill="#fff" stroke="#000" stroke-width="3.8" stroke-linejoin="round"/>
<text x="166.8" y="1142.7" font-size="29.2" class="t">dry</text>
<rect x="241.2" y="1107.2" width="145.6" height="53.0" fill="#fff" stroke="#000" stroke-width="3.8" stroke-linejoin="round"/>
<text x="265.3" y="1142.7" font-size="29.2" class="t">Ta-d PR</text>
<rect x="508.0" y="1101.8" width="145.2" height="101.6" fill="#fff" stroke="#000" stroke-width="2.4" stroke-linejoin="round"/>
<circle cx="527.9" cy="1118.3" r="4.55" fill="#5299D9" stroke="#4A82BF" stroke-width="0.7"/>
<path d="M527.9 1147.3L533.4 1152.8L527.9 1158.3L522.4 1152.8Z" fill="#FFC000"/>
<path d="M527.9 1179.7L533.5 1191.3L522.2 1191.3Z" fill="#FF0000"/>
<text x="551.9" y="1126.2" font-size="22.2" class="t">49kN/m<tspan font-size="14.5" dy="-6.4">2</tspan></text>
<text x="551.9" y="1161.8" font-size="22.2" class="t">98kN/m<tspan font-size="14.5" dy="-6.4">2</tspan></text>
<text x="551.9" y="1198.8" font-size="22.2" class="t">147kN/m<tspan font-size="14.5" dy="-6.4">2</tspan></text>
<circle cx="122.6" cy="1500.2" r="4.35" fill="#5299D9" stroke="#4A82BF" stroke-width="0.7"/>
<circle cx="126.0" cy="1487.0" r="4.35" fill="#5299D9" stroke="#4A82BF" stroke-width="0.7"/>
<circle cx="129.4" cy="1484.2" r="4.35" fill="#5299D9" stroke="#4A82BF" stroke-width="0.7"/>
<circle cx="136.3" cy="1477.5" r="4.35" fill="#5299D9" stroke="#4A82BF" stroke-width="0.7"/>
<circle cx="143.1" cy="1472.0" r="4.35" fill="#5299D9" stroke="#4A82BF" stroke-width="0.7"/>
<circle cx="149.9" cy="1469.0" r="4.35" fill="#5299D9" stroke="#4A82BF" stroke-width="0.7"/>
<circle cx="156.8" cy="1464.0" r="4.35" fill="#5299D9" stroke="#4A82BF" stroke-width="0.7"/>
<circle cx="163.6" cy="1459.8" r="4.35" fill="#5299D9" stroke="#4A82BF" stroke-width="0.7"/>
<circle cx="177.3" cy="1454.2" r="4.35" fill="#5299D9" stroke="#4A82BF" stroke-width="0.7"/>
<circle cx="191.0" cy="1449.4" r="4.35" fill="#5299D9" stroke="#4A82BF" stroke-width="0.7"/>
<circle cx="204.7" cy="1444.4" r="4.35" fill="#5299D9" stroke="#4A82BF" stroke-width="0.7"/>
<circle cx="218.3" cy="1438.4" r="4.35" fill="#5299D9" stroke="#4A82BF" stroke-width="0.7"/>
<circle cx="232.0" cy="1431.8" r="4.35" fill="#5299D9" stroke="#4A82BF" stroke-width="0.7"/>
<circle cx="245.7" cy="1426.6" r="4.35" fill="#5299D9" stroke="#4A82BF" stroke-width="0.7"/>
<circle cx="259.4" cy="1422.6" r="4.35" fill="#5299D9" stroke="#4A82BF" stroke-width="0.7"/>
<circle cx="273.0" cy="1418.2" r="4.35" fill="#5299D9" stroke="#4A82BF" stroke-width="0.7"/>
<circle cx="286.7" cy="1415.6" r="4.35" fill="#5299D9" stroke="#4A82BF" stroke-width="0.7"/>
<circle cx="300.4" cy="1412.1" r="4.35" fill="#5299D9" stroke="#4A82BF" stroke-width="0.7"/>
<circle cx="314.1" cy="1407.7" r="4.35" fill="#5299D9" stroke="#4A82BF" stroke-width="0.7"/>
<circle cx="327.7" cy="1404.0" r="4.35" fill="#5299D9" stroke="#4A82BF" stroke-width="0.7"/>
<circle cx="341.4" cy="1401.2" r="4.35" fill="#5299D9" stroke="#4A82BF" stroke-width="0.7"/>
<circle cx="355.1" cy="1397.2" r="4.35" fill="#5299D9" stroke="#4A82BF" stroke-width="0.7"/>
<circle cx="368.8" cy="1395.0" r="4.35" fill="#5299D9" stroke="#4A82BF" stroke-width="0.7"/>
<circle cx="382.4" cy="1393.3" r="4.35" fill="#5299D9" stroke="#4A82BF" stroke-width="0.7"/>
<circle cx="396.1" cy="1391.1" r="4.35" fill="#5299D9" stroke="#4A82BF" stroke-width="0.7"/>
<circle cx="409.8" cy="1388.9" r="4.35" fill="#5299D9" stroke="#4A82BF" stroke-width="0.7"/>
<circle cx="423.5" cy="1387.8" r="4.35" fill="#5299D9" stroke="#4A82BF" stroke-width="0.7"/>
<circle cx="437.1" cy="1383.4" r="4.35" fill="#5299D9" stroke="#4A82BF" stroke-width="0.7"/>
<circle cx="450.8" cy="1382.3" r="4.35" fill="#5299D9" stroke="#4A82BF" stroke-width="0.7"/>
<circle cx="464.5" cy="1378.2" r="4.35" fill="#5299D9" stroke="#4A82BF" stroke-width="0.7"/>
<circle cx="478.1" cy="1377.5" r="4.35" fill="#5299D9" stroke="#4A82BF" stroke-width="0.7"/>
<circle cx="491.8" cy="1376.9" r="4.35" fill="#5299D9" stroke="#4A82BF" stroke-width="0.7"/>
<circle cx="505.5" cy="1375.3" r="4.35" fill="#5299D9" stroke="#4A82BF" stroke-width="0.7"/>
<circle cx="519.2" cy="1374.0" r="4.35" fill="#5299D9" stroke="#4A82BF" stroke-width="0.7"/>
<circle cx="532.9" cy="1374.0" r="4.35" fill="#5299D9" stroke="#4A82BF" stroke-width="0.7"/>
<circle cx="546.5" cy="1372.5" r="4.35" fill="#5299D9" stroke="#4A82BF" stroke-width="0.7"/>
<circle cx="560.2" cy="1371.4" r="4.35" fill="#5299D9" stroke="#4A82BF" stroke-width="0.7"/>
<circle cx="573.9" cy="1369.2" r="4.35" fill="#5299D9" stroke="#4A82BF" stroke-width="0.7"/>
<circle cx="587.6" cy="1369.2" r="4.35" fill="#5299D9" stroke="#4A82BF" stroke-width="0.7"/>
<circle cx="601.2" cy="1369.2" r="4.35" fill="#5299D9" stroke="#4A82BF" stroke-width="0.7"/>
<path d="M122.6 1494.5L128.3 1500.2L122.6 1505.9L116.9 1500.2Z" fill="#FFC000"/>
<path d="M126.0 1464.8L131.7 1470.5L126.0 1476.2L120.3 1470.5Z" fill="#FFC000"/>
<path d="M129.4 1460.3L135.1 1466.0L129.4 1471.7L123.7 1466.0Z" fill="#FFC000"/>
<path d="M136.3 1453.8L142.0 1459.5L136.3 1465.2L130.6 1459.5Z" fill="#FFC000"/>
<path d="M143.1 1447.8L148.8 1453.5L143.1 1459.2L137.4 1453.5Z" fill="#FFC000"/>
<path d="M149.9 1443.3L155.6 1449.0L149.9 1454.7L144.2 1449.0Z" fill="#FFC000"/>
<path d="M156.8 1441.3L162.5 1447.0L156.8 1452.7L151.1 1447.0Z" fill="#FFC000"/>
<path d="M163.6 1435.3L169.3 1441.0L163.6 1446.7L157.9 1441.0Z" fill="#FFC000"/>
<path d="M177.3 1423.0L183.0 1428.7L177.3 1434.4L171.6 1428.7Z" fill="#FFC000"/>
<path d="M191.0 1415.3L196.7 1421.0L191.0 1426.7L185.3 1421.0Z" fill="#FFC000"/>
<path d="M204.7 1407.7L210.3 1413.4L204.7 1419.1L199.0 1413.4Z" fill="#FFC000"/>
<path d="M218.3 1401.2L224.0 1406.9L218.3 1412.6L212.6 1406.9Z" fill="#FFC000"/>
<path d="M232.0 1393.3L237.7 1399.0L232.0 1404.7L226.3 1399.0Z" fill="#FFC000"/>
<path d="M245.7 1388.9L251.4 1394.6L245.7 1400.3L240.0 1394.6Z" fill="#FFC000"/>
<path d="M259.4 1377.9L265.1 1383.6L259.4 1389.3L253.7 1383.6Z" fill="#FFC000"/>
<path d="M273.0 1368.3L278.7 1374.0L273.0 1379.7L267.3 1374.0Z" fill="#FFC000"/>
<path d="M286.7 1361.7L292.4 1367.4L286.7 1373.1L281.0 1367.4Z" fill="#FFC000"/>
<path d="M300.4 1357.8L306.1 1363.5L300.4 1369.2L294.7 1363.5Z" fill="#FFC000"/>
<path d="M314.1 1353.0L319.8 1358.7L314.1 1364.4L308.4 1358.7Z" fill="#FFC000"/>
<path d="M327.7 1348.6L333.4 1354.3L327.7 1360.0L322.0 1354.3Z" fill="#FFC000"/>
<path d="M341.4 1346.5L347.1 1352.2L341.4 1357.9L335.7 1352.2Z" fill="#FFC000"/>
<path d="M355.1 1344.9L360.8 1350.6L355.1 1356.3L349.4 1350.6Z" fill="#FFC000"/>
<path d="M368.8 1342.0L374.4 1347.7L368.8 1353.4L363.1 1347.7Z" fill="#FFC000"/>
<path d="M382.4 1339.0L388.1 1344.7L382.4 1350.4L376.7 1344.7Z" fill="#FFC000"/>
<path d="M396.1 1336.1L401.8 1341.8L396.1 1347.5L390.4 1341.8Z" fill="#FFC000"/>
<path d="M409.8 1331.7L415.5 1337.4L409.8 1343.1L404.1 1337.4Z" fill="#FFC000"/>
<path d="M423.5 1328.0L429.2 1333.7L423.5 1339.4L417.8 1333.7Z" fill="#FFC000"/>
<path d="M437.1 1325.8L442.8 1331.5L437.1 1337.2L431.4 1331.5Z" fill="#FFC000"/>
<path d="M450.8 1323.0L456.5 1328.7L450.8 1334.4L445.1 1328.7Z" fill="#FFC000"/>
<path d="M464.5 1322.1L470.2 1327.8L464.5 1333.5L458.8 1327.8Z" fill="#FFC000"/>
<path d="M478.1 1321.4L483.8 1327.1L478.1 1332.8L472.4 1327.1Z" fill="#FFC000"/>
<path d="M491.8 1317.5L497.5 1323.2L491.8 1328.9L486.1 1323.2Z" fill="#FFC000"/>
<path d="M505.5 1314.9L511.2 1320.6L505.5 1326.3L499.8 1320.6Z" fill="#FFC000"/>
<path d="M519.2 1312.0L524.9 1317.7L519.2 1323.4L513.5 1317.7Z" fill="#FFC000"/>
<path d="M532.9 1310.9L538.6 1316.6L532.9 1322.3L527.1 1316.6Z" fill="#FFC000"/>
<path d="M546.5 1310.9L552.2 1316.6L546.5 1322.3L540.8 1316.6Z" fill="#FFC000"/>
<path d="M560.2 1310.5L565.9 1316.2L560.2 1321.9L554.5 1316.2Z" fill="#FFC000"/>
<path d="M573.9 1309.2L579.6 1314.9L573.9 1320.6L568.2 1314.9Z" fill="#FFC000"/>
<path d="M587.6 1310.5L593.3 1316.2L587.6 1321.9L581.9 1316.2Z" fill="#FFC000"/>
<path d="M601.2 1306.1L606.9 1311.8L601.2 1317.5L595.5 1311.8Z" fill="#FFC000"/>
<path d="M122.6 1494.0L128.2 1505.4L117.0 1505.4Z" fill="#FF0000"/>
<path d="M126.0 1468.3L131.6 1479.7L120.4 1479.7Z" fill="#FF0000"/>
<path d="M129.4 1466.1L135.0 1477.5L123.8 1477.5Z" fill="#FF0000"/>
<path d="M136.3 1462.8L141.9 1474.2L130.7 1474.2Z" fill="#FF0000"/>
<path d="M143.1 1456.3L148.7 1467.7L137.5 1467.7Z" fill="#FF0000"/>
<path d="M149.9 1446.9L155.5 1458.3L144.3 1458.3Z" fill="#FF0000"/>
<path d="M156.8 1439.1L162.4 1450.5L151.2 1450.5Z" fill="#FF0000"/>
<path d="M163.6 1431.7L169.2 1443.1L158.0 1443.1Z" fill="#FF0000"/>
<path d="M177.3 1413.7L182.9 1425.1L171.7 1425.1Z" fill="#FF0000"/>
<path d="M191.0 1404.7L196.6 1416.1L185.4 1416.1Z" fill="#FF0000"/>
<path d="M204.7 1392.1L210.2 1403.5L199.1 1403.5Z" fill="#FF0000"/>
<path d="M218.3 1382.5L223.9 1393.9L212.7 1393.9Z" fill="#FF0000"/>
<path d="M232.0 1372.6L237.6 1384.0L226.4 1384.0Z" fill="#FF0000"/>
<path d="M245.7 1362.1L251.3 1373.5L240.1 1373.5Z" fill="#FF0000"/>
<path d="M259.4 1351.2L265.0 1362.6L253.8 1362.6Z" fill="#FF0000"/>
<path d="M273.0 1343.1L278.6 1354.5L267.4 1354.5Z" fill="#FF0000"/>
<path d="M286.7 1337.2L292.3 1348.6L281.1 1348.6Z" fill="#FF0000"/>
<path d="M300.4 1331.5L306.0 1342.9L294.8 1342.9Z" fill="#FF0000"/>
<path d="M314.1 1322.7L319.7 1334.1L308.4 1334.1Z" fill="#FF0000"/>
<path d="M327.7 1313.9L333.3 1325.3L322.1 1325.3Z" fill="#FF0000"/>
<path d="M341.4 1303.6L347.0 1315.0L335.8 1315.0Z" fill="#FF0000"/>
<path d="M355.1 1299.1L360.7 1310.5L349.5 1310.5Z" fill="#FF0000"/>
<path d="M368.8 1296.2L374.4 1307.6L363.1 1307.6Z" fill="#FF0000"/>
<path d="M382.4 1292.9L388.0 1304.3L376.8 1304.3Z" fill="#FF0000"/>
<path d="M396.1 1289.0L401.7 1300.4L390.5 1300.4Z" fill="#FF0000"/>
<path d="M409.8 1286.4L415.4 1297.8L404.2 1297.8Z" fill="#FF0000"/>
<path d="M423.5 1280.2L429.1 1291.6L417.9 1291.6Z" fill="#FF0000"/>
<path d="M437.1 1276.5L442.7 1287.9L431.5 1287.9Z" fill="#FF0000"/>
<path d="M450.8 1272.1L456.4 1283.5L445.2 1283.5Z" fill="#FF0000"/>
<path d="M464.5 1270.8L470.1 1282.2L458.9 1282.2Z" fill="#FF0000"/>
<path d="M478.1 1269.9L483.8 1281.3L472.5 1281.3Z" fill="#FF0000"/>
<path d="M491.8 1268.4L497.4 1279.8L486.2 1279.8Z" fill="#FF0000"/>
<path d="M505.5 1265.5L511.1 1276.9L499.9 1276.9Z" fill="#FF0000"/>
<path d="M519.2 1265.5L524.8 1276.9L513.6 1276.9Z" fill="#FF0000"/>
<path d="M532.9 1262.3L538.5 1273.7L527.2 1273.7Z" fill="#FF0000"/>
<path d="M546.5 1261.8L552.1 1273.2L540.9 1273.2Z" fill="#FF0000"/>
<path d="M560.2 1259.0L565.8 1270.4L554.6 1270.4Z" fill="#FF0000"/>
<path d="M573.9 1258.5L579.5 1269.9L568.3 1269.9Z" fill="#FF0000"/>
<path d="M587.6 1257.9L593.2 1269.3L582.0 1269.3Z" fill="#FF0000"/>
<path d="M601.2 1258.3L606.8 1269.7L595.6 1269.7Z" fill="#FF0000"/>
<text x="99.6" y="1509.0" font-size="27.5" text-anchor="end" class="t">0</text>
<text x="99.6" y="1468.1" font-size="27.5" text-anchor="end" class="t">20</text>
<text x="99.6" y="1427.3" font-size="27.5" text-anchor="end" class="t">40</text>
<text x="99.6" y="1386.4" font-size="27.5" text-anchor="end" class="t">60</text>
<text x="99.6" y="1345.6" font-size="27.5" text-anchor="end" class="t">80</text>
<text x="99.6" y="1304.7" font-size="27.5" text-anchor="end" class="t">100</text>
<text x="99.6" y="1263.8" font-size="27.5" text-anchor="end" class="t">120</text>
<text x="99.6" y="1223.0" font-size="27.5" text-anchor="end" class="t">140</text>
<text x="99.6" y="1182.1" font-size="27.5" text-anchor="end" class="t">160</text>
<text x="99.6" y="1141.3" font-size="27.5" text-anchor="end" class="t">180</text>
<text x="99.6" y="1100.4" font-size="27.5" text-anchor="end" class="t">200</text>
<text x="122.6" y="1540.2" font-size="27.5" text-anchor="middle" class="t">0</text>
<text x="259.4" y="1540.2" font-size="27.5" text-anchor="middle" class="t">20</text>
<text x="396.1" y="1540.2" font-size="27.5" text-anchor="middle" class="t">40</text>
<text x="532.9" y="1540.2" font-size="27.5" text-anchor="middle" class="t">60</text>
<text x="669.6" y="1540.2" font-size="27.5" text-anchor="middle" class="t">80</text>
<text x="237.1" y="1585.9" font-size="29.9" class="t">Shear displacement (mm)</text>
<text transform="translate(37.5,1450.4) rotate(-90)" x="-1" y="0" font-size="29.8" class="t">Shear stress τ (kN/m<tspan font-size="19.7" dy="-9.1">2</tspan><tspan dy="9.1">)</tspan></text>
<text x="336.3" y="1639.7" font-size="27" class="t">(a)</text>
</svg>
</body></html>
